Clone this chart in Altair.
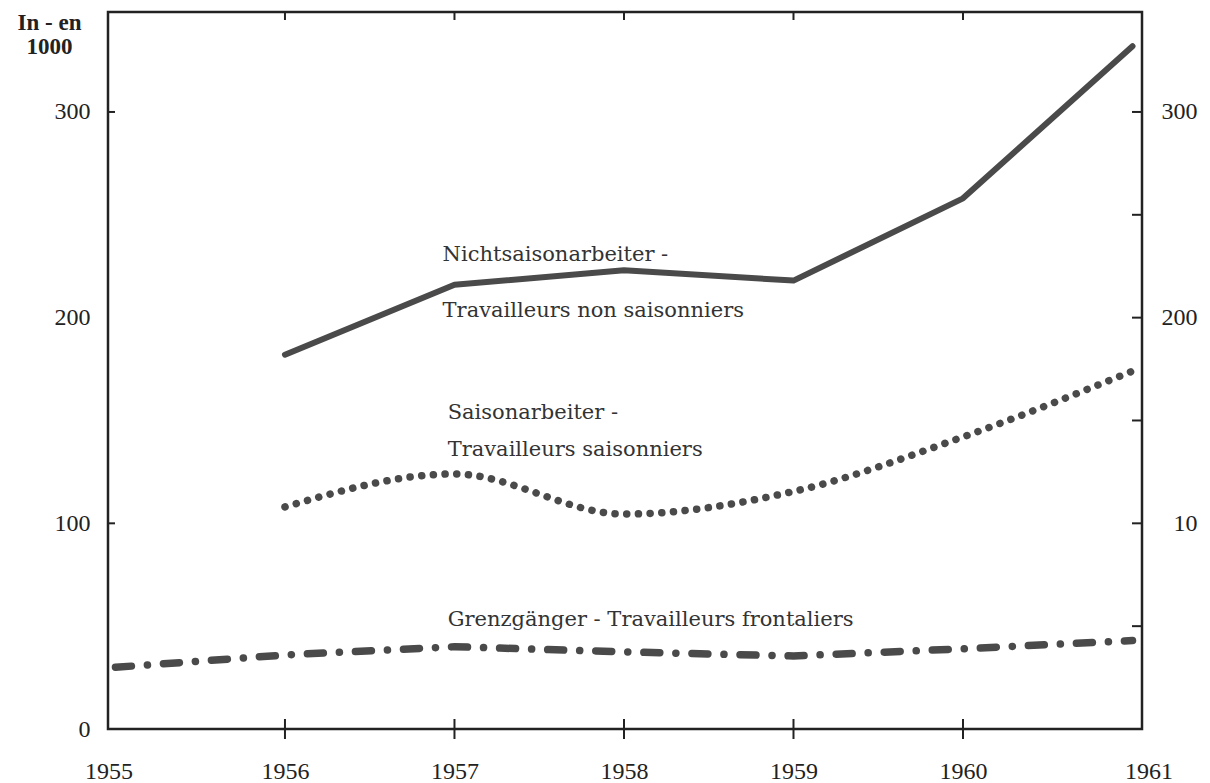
import altair as alt
import pandas as pd

# ---- data (values in thousands) ----
years_main = [1956, 1957, 1958, 1959, 1960, 1961]
nicht_saison = [182, 216, 223, 218, 258, 332]
saison = [108, 124, 104.5, 115.5, 142, 174]
years_front = [1955, 1956, 1957, 1958, 1959, 1960, 1961]
frontaliers = [30, 36, 40, 37.5, 35.5, 39, 43]

x_label_years = [1955, 1956, 1957, 1958, 1959, 1960, 1961]
inner_tick_years = [1956, 1957, 1958, 1959, 1960]
left_label_values = [0, 100, 200, 300]
left_tick_values = [100, 300]
right_label_values = [100, 200, 300]
right_tick_values = [50, 100, 150, 200, 250, 300]

ann_texts = [
    "Nichtsaisonarbeiter -",
    "Travailleurs non saisonniers",
    "Saisonarbeiter -",
    "Travailleurs saisonniers",
    "Grenzgänger - Travailleurs frontaliers",
]
ann_x = [1956.93, 1956.93, 1956.96, 1956.96, 1956.96]
ann_y = [230.4, 203.2, 153.6, 135.6, 53.0]

# ---- layout constants ----
W, H = 1034, 717
XDOM = [1954.956, 1961.056]
YDOM = [0, 348.6]
INK = "#4a4a4a"
AXFONT = "Liberation Serif"

xs = alt.Scale(domain=XDOM, nice=False, zero=False)
ys = alt.Scale(domain=YDOM, nice=False, zero=False)

df_n = pd.DataFrame({"year": years_main, "v": nicht_saison})
df_s = pd.DataFrame({"year": years_main, "v": saison})
df_f = pd.DataFrame({"year": years_front, "v": frontaliers})

x_axis = alt.Axis(values=x_label_years, format="d", ticks=False, domain=False,
                  grid=False, title=None, labelPadding=30, labelFont=AXFONT,
                  labelFontSize=24, labelColor="#222", labelFlush=False,
                  labelOffset={"condition": [
                      {"test": "datum.value == 1955", "value": -7},
                      {"test": "datum.value == 1961", "value": 16}],
                      "value": 0})
y_left_axis = alt.Axis(values=left_label_values, ticks=False, domain=False, grid=False,
                       labelPadding=18, labelFont=AXFONT, labelFontSize=24,
                       labelColor="#222",
                       title=["In - en", "1000"], titleAngle=0, titleAlign="center",
                       titleBaseline="alphabetic", titleX=-59, titleY=17,
                       titleFont=AXFONT, titleFontSize=23, titleFontWeight="bold",
                       titleLineHeight=24, titleColor="#222")

line_n = alt.Chart(df_n).mark_line(
    color=INK, strokeWidth=6, strokeJoin="round", strokeCap="round"
).encode(
    x=alt.X("year:Q", scale=xs, axis=x_axis),
    y=alt.Y("v:Q", scale=ys, axis=y_left_axis),
)

line_s = alt.Chart(df_s).mark_line(
    color=INK, strokeWidth=7.5, strokeDash=[0.1, 11.6], strokeCap="round",
    interpolate="monotone"
).encode(
    x=alt.X("year:Q", scale=xs, axis=None),
    y=alt.Y("v:Q", scale=ys, axis=None),
)

line_f = alt.Chart(df_f).mark_line(
    color=INK, strokeWidth=7.5, strokeDash=[16, 16, 0.1, 16], strokeCap="round"
).encode(
    x=alt.X("year:Q", scale=xs, axis=None),
    y=alt.Y("v:Q", scale=ys, axis=None),
)

# right axis with labels (the original prints "10" for 100)
df_rt = pd.DataFrame({"v": right_tick_values})
right_ticks = alt.Chart(df_rt).mark_rule(color="#222", strokeWidth=2).encode(
    x=alt.value(W - 10), x2=alt.value(W),
    y=alt.Y("v:Q", scale=ys,
            axis=alt.Axis(orient="right", values=right_label_values, ticks=False,
                          domain=False, grid=False, title=None, labelPadding=55,
                          labelAlign="right", labelFont=AXFONT, labelFontSize=24,
                          labelColor="#222",
                          labelExpr="datum.value == 100 ? '10' : datum.label")),
)

df_lt = pd.DataFrame({"v": left_tick_values})
left_ticks = alt.Chart(df_lt).mark_rule(color="#222", strokeWidth=2).encode(
    x=alt.value(0), x2=alt.value(7),
    y=alt.Y("v:Q", scale=ys, axis=None),
)

df_xt = pd.DataFrame({"year": inner_tick_years})
top_ticks = alt.Chart(df_xt).mark_rule(color="#222", strokeWidth=2).encode(
    x=alt.X("year:Q", scale=xs, axis=None),
    y=alt.value(0), y2=alt.value(8),
)
bottom_ticks = alt.Chart(df_xt).mark_rule(color="#222", strokeWidth=2).encode(
    x=alt.X("year:Q", scale=xs, axis=None),
    y=alt.value(H - 10), y2=alt.value(H + 10),
)

df_ann = pd.DataFrame({"t": ann_texts, "x": ann_x, "y": ann_y})
ann = alt.Chart(df_ann).mark_text(
    align="left", baseline="middle", font="DejaVu Serif", fontSize=21,
    color="#333"
).encode(
    x=alt.X("x:Q", scale=xs, axis=None),
    y=alt.Y("y:Q", scale=ys, axis=None),
    text="t:N",
)

chart = alt.layer(
    line_n, line_s, line_f, right_ticks, left_ticks, top_ticks, bottom_ticks, ann
).resolve_axis(x="independent", y="independent").properties(
    width=W, height=H,
    autosize=alt.AutoSizeParams(type="none"),
    padding={"left": 100, "top": 4, "right": 60, "bottom": 54},
    background="white",
).configure_view(stroke="#222", strokeWidth=2.5)

chart.save("out.html", embed_options={"renderer": "svg", "actions": False})
